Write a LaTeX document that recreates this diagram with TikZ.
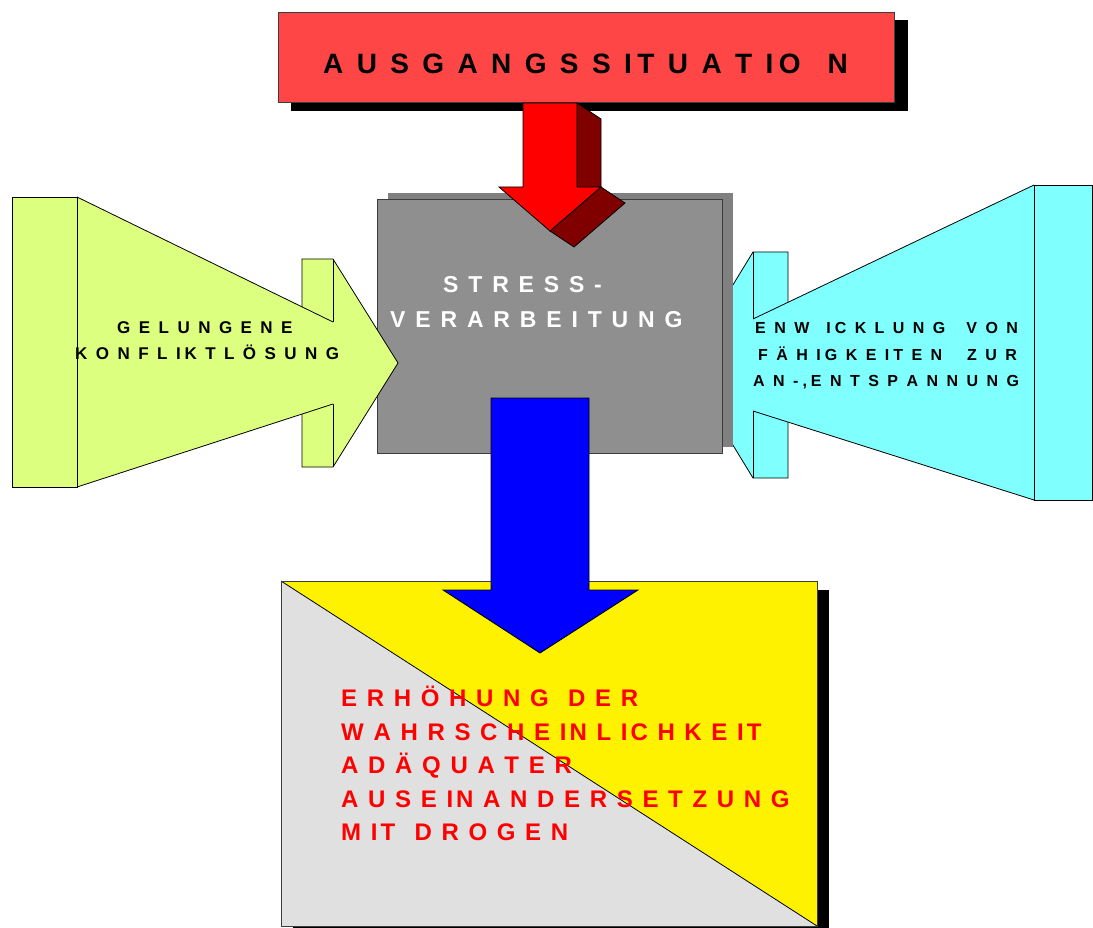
\documentclass[tikz,border=0pt]{standalone}
\usepackage{fontspec}
\setmainfont{Liberation Sans}
\definecolor{boxred}{RGB}{255,70,70}
\definecolor{arrred}{RGB}{255,0,0}
\definecolor{arrdark}{RGB}{128,0,0}
\definecolor{coregray}{RGB}{143,143,143}
\definecolor{coreshade}{RGB}{128,128,128}
\definecolor{limefill}{RGB}{221,255,128}
\definecolor{aquafill}{RGB}{128,255,255}
\definecolor{palegray}{RGB}{224,224,224}
\definecolor{edgegray}{RGB}{60,60,60}
\definecolor{inkred}{RGB}{255,0,0}
\newcommand\trackfont[2]{\fontsize{#1}{#1}\selectfont\bfseries\addfontfeatures{LetterSpace=#2}}
\tikzset{
  outline/.style={draw=black, line width=0.8pt, line join=miter},
  frame/.style={draw=edgegray, line width=0.8pt},
  lettering/.style={inner sep=0pt, anchor=base west},
  titletext/.style={lettering, font={\trackfont{28}{20}}},
  lefttext/.style={lettering, font={\trackfont{17}{22}}},
  righttext/.style={lettering, font={\trackfont{16}{25}}},
  coretext/.style={lettering, text=white, font={\trackfont{23}{15}}},
  resulttext/.style={lettering, text=inkred, font={\trackfont{24}{12.5}}},
}
\begin{document}
\begin{tikzpicture}[x=1pt,y=-1pt]
\useasboundingbox (0,0) rectangle (1093,928);
\clip (0,0) rectangle (1093,928);
\fill[white] (0,0) rectangle (1093,928);

% right arrow, behind the core box
\path[outline, fill=aquafill] (788,252) -- (753,252) -- (684,365) -- (753,478) -- (788,478) -- cycle;
\draw[line width=0.8pt] (753,252) -- (753,478);
\fill[aquafill] (1034,185) -- (753,319) -- (751,319) -- (751,411) -- (753,411) -- (1034,500) -- cycle;
\draw[outline] (753,319) -- (1034,185) (753,411) -- (1034,500);
\path[outline, fill=aquafill] (1034,185) rectangle (1092,500);

% core box with its shade
\fill[coreshade] (388,193) rectangle (733,447);
\path[frame, fill=coregray] (377,199) rectangle (722,453);

% left arrow
\path[outline, fill=limefill] (302,259) -- (333,259) -- (398,363) -- (333,467) -- (302,467) -- cycle;
\draw[line width=0.8pt] (333,259) -- (333,467);
\fill[limefill] (77,197) -- (333,322) -- (335,322) -- (335,404) -- (333,404) -- (77,487) -- cycle;
\draw[outline] (333,322) -- (77,197) (77,487) -- (333,404);
\path[outline, fill=limefill] (12,197) rectangle (77,487);

% title box
\fill[black] (291,20) rectangle (908,111);
\path[frame, fill=boxred] (278,12) rectangle (894,102);

% red arrow with its dark sides
\path[outline, fill=arrdark] (577,103) -- (601,119) -- (601,187) -- (577,187) -- cycle;
\path[outline, fill=arrdark] (601,187) -- (625,203) -- (574,247) -- (550,231) -- cycle;
\path[outline, fill=arrred] (523,103) -- (577,103) -- (577,187) -- (601,187) -- (550,231) -- (499,187) -- (523,187) -- cycle;

% result box
\fill[black] (293,590) rectangle (829,940);
\fill[palegray] (281,581) rectangle (817,926);
\fill[yellow] (281,581) -- (817,581) -- (817,926) -- cycle;
\draw[outline] (281,581) -- (817,926);
\draw[frame] (281,581) rectangle (817,926);

% blue arrow
\path[outline, fill=blue] (491,398) -- (589,398) -- (589,590) -- (638,590) -- (540,653) -- (443,590) -- (491,590) -- cycle;

% labels
\node[titletext] (title) at (323,74) {A U S G A N G S S IT U A T IO\ \ N};

\node[coretext] (core1) at (443,293) {S T R E S S -};
\node[coretext] (core2) at (390,327) {V E R A R B E I T U N G};

\node[lefttext] (left1) at (117,333) {G E L U N G E N E};
\node[lefttext] (left2) at (75,359) {K O N F L IK T L Ö S U N G};

\node[righttext] (right1) at (755,334) {E N W\ \ IC K L U N G\hspace{21pt}V O N};
\node[righttext] (right2) at (758,360) {F Ä H IG K E IT E N\hspace{25pt}Z U R};
\node[righttext] (right3) at (753,386) {A N -,E N T S P A N N U N G};

\node[resulttext] (res1) at (341,706.5) {E R H Ö H U N G\ \ D E R};
\node[resulttext] (res2) at (341,740.1) {W A H R S C H E IN L IC H K E IT};
\node[resulttext] (res3) at (341,773.7) {A D Ä Q U A T E R};
\node[resulttext] (res4) at (341,807.3) {A U S E IN A N D E R S E T Z U N G};
\node[resulttext] (res5) at (341,840.9) {M IT\ \ D R O G E N};
\end{tikzpicture}
\end{document}
